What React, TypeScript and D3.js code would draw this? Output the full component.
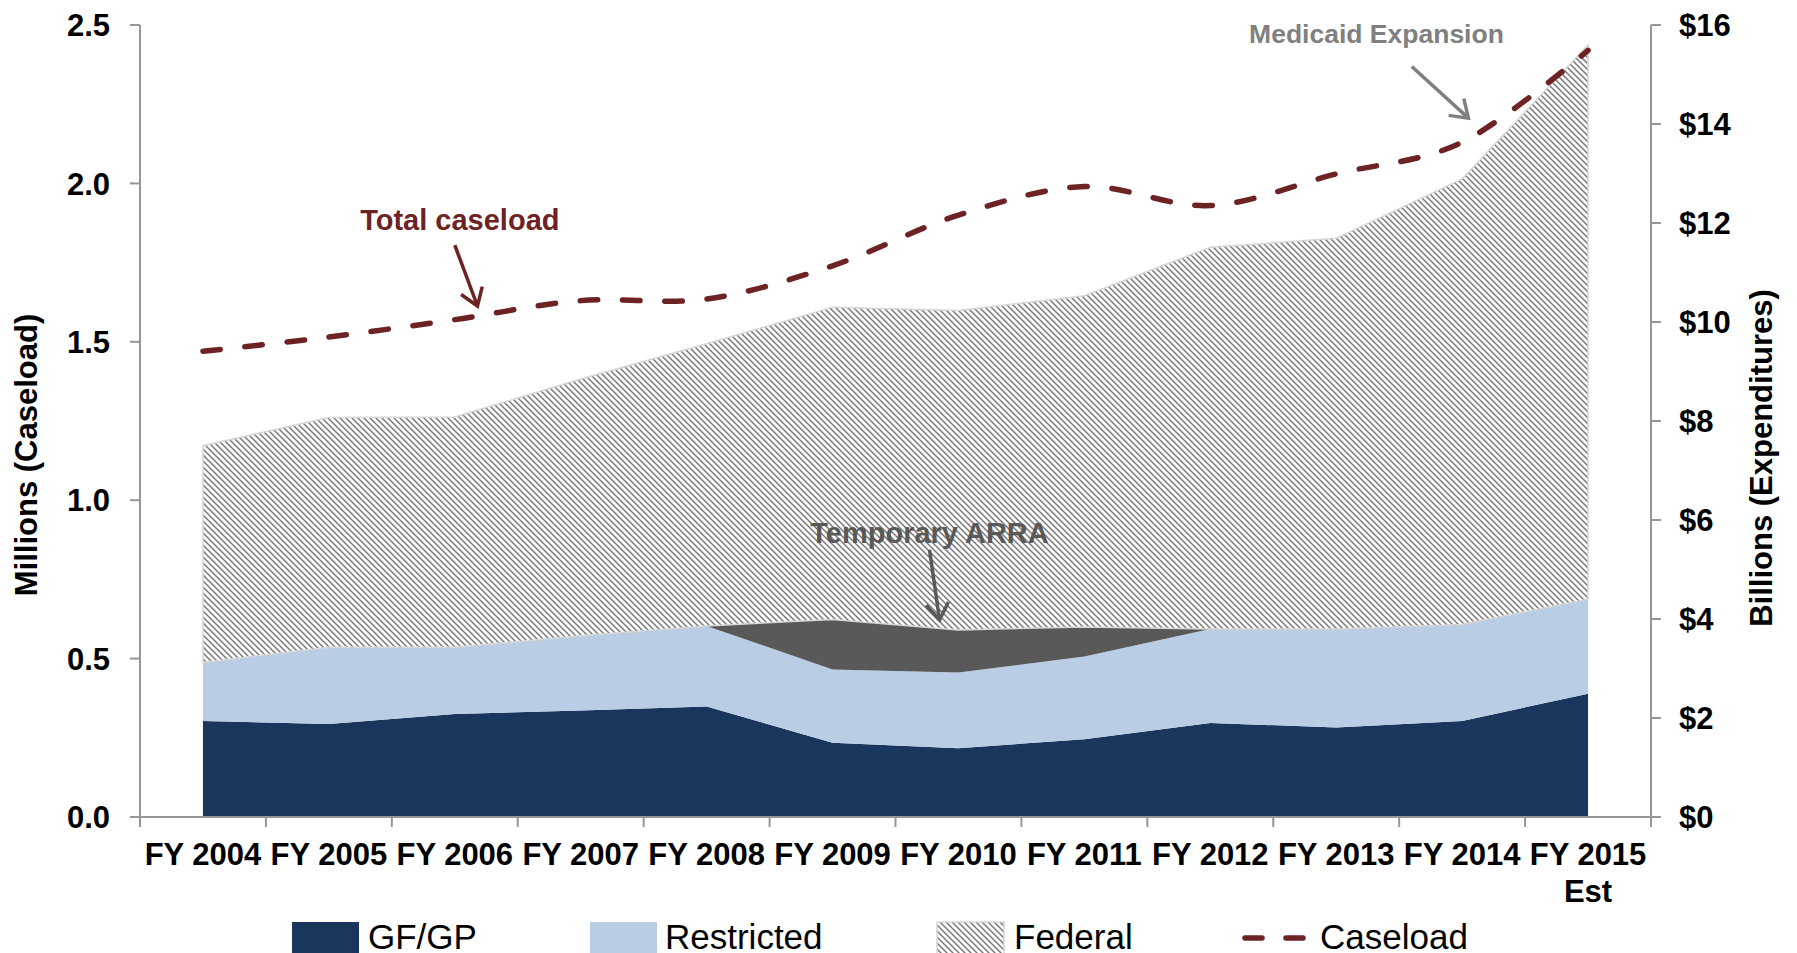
import React from 'react';
import * as d3 from 'd3';

// ---------- data ----------
const categories = ['FY 2004', 'FY 2005', 'FY 2006', 'FY 2007', 'FY 2008', 'FY 2009', 'FY 2010', 'FY 2011', 'FY 2012', 'FY 2013', 'FY 2014', 'FY 2015'];
const categorySubLabels = ['', '', '', '', '', '', '', '', '', '', '', 'Est'];
// Expenditures, billions of dollars (right axis)
const gfgp = [1.94, 1.88, 2.08, 2.15, 2.23, 1.50, 1.39, 1.57, 1.90, 1.81, 1.94, 2.49];
const restricted = [1.18, 1.55, 1.35, 1.51, 1.63, 1.48, 1.53, 1.67, 1.90, 1.99, 1.95, 1.91];
const arra = [0, 0, 0, 0, 0, 1.01, 0.86, 0.60, 0, 0, 0, 0];
const federal = [4.38, 4.64, 4.65, 5.19, 5.70, 6.31, 6.45, 6.69, 7.71, 7.89, 9.00, 11.20];
// Caseload, millions (left axis)
const caseload = [1.47, 1.515, 1.57, 1.63, 1.635, 1.74, 1.90, 1.99, 1.93, 2.03, 2.13, 2.42];

const leftTicks = [0, 0.5, 1.0, 1.5, 2.0, 2.5];
const rightTicks = [0, 2, 4, 6, 8, 10, 12, 14, 16];
const seriesNames = ['GF/GP', 'Restricted', 'Federal', 'Caseload'];

// annotations in data space: [category index, value]
const annotations = [
  { text: 'Total caseload', color: '#6d2323', axis: 'L', size: 29, label: [2.04, 1.853], from: [2.0, 1.805], to: [2.18, 1.613] },
  { text: 'Temporary ARRA', color: '#595959', axis: 'R', size: 29, label: [5.77, 5.535], from: [5.77, 5.40], to: [5.85, 3.98] },
  { text: 'Medicaid Expansion', color: '#808080', axis: 'L', size: 26.5, label: [9.32, 2.443], from: [9.6, 2.369], to: [10.05, 2.206] },
];

// ---------- layout ----------
const W = 1797;
const H = 953;
const X0 = 140;
const X1 = 1651;
const Y0 = 817;
const Y1 = 25;
const FONT = '"Liberation Sans", Arial, Helvetica, sans-serif';
const AXIS = '#969696';
const C_GF = '#1b365c';
const C_RES = '#b9cde5';
const C_ARRA = '#595959';
const C_LINE = '#6d2323';

export default function App() {
  const x = d3.scaleBand<string>().domain(categories).range([X0, X1]).paddingInner(0).paddingOuter(0);
  const bw = x.bandwidth();
  const cx = (i: number) => X0 + bw * (i + 0.5);
  const yL = d3.scaleLinear().domain([0, 2.5]).range([Y0, Y1]);
  const yR = d3.scaleLinear().domain([0, 16]).range([Y0, Y1]);

  const table = categories.map((c, i) => ({ cat: c, gfgp: gfgp[i], restricted: restricted[i], arra: arra[i], federal: federal[i] }));
  const keys = ['gfgp', 'restricted', 'arra', 'federal'];
  const stacked = d3.stack<any>().keys(keys)(table);
  const area = d3
    .area<any>()
    .x((d: any) => (x(d.data.cat) as number) + bw / 2)
    .y0((d: any) => yR(d[0]))
    .y1((d: any) => yR(d[1]));
  const fills: Record<string, string> = { gfgp: C_GF, restricted: C_RES, arra: C_ARRA, federal: 'url(#hatch)' };

  const line = d3
    .line<number>()
    .x((_d, i) => cx(i))
    .y((d) => yL(d))
    .curve(d3.curveCardinal.tension(0));

  const xTickPositions = d3.range(categories.length + 1).map((k) => X0 + k * bw);

  const arrowHead = (x1: number, y1: number, x2: number, y2: number, len = 20, ang = 0.6) => {
    const a = Math.atan2(y2 - y1, x2 - x1);
    const p1 = [x2 - len * Math.cos(a - ang), y2 - len * Math.sin(a - ang)];
    const p2 = [x2 - len * Math.cos(a + ang), y2 - len * Math.sin(a + ang)];
    return `M${p1[0]},${p1[1]} L${x2},${y2} L${p2[0]},${p2[1]}`;
  };

  const legendY = 922;
  const legendItems = [
    { name: seriesNames[0], bx: 292, tx: 368, kind: 'box', fill: C_GF },
    { name: seriesNames[1], bx: 590, tx: 665, kind: 'box', fill: C_RES },
    { name: seriesNames[2], bx: 937, tx: 1014, kind: 'box', fill: 'url(#hatch)' },
    { name: seriesNames[3], bx: 1242, tx: 1320, kind: 'line', fill: C_LINE },
  ];

  return (
    <svg
      width={W}
      height={H}
      viewBox={`0 0 ${W} ${H}`}
      style={{ position: 'absolute', left: 0, top: 0, background: '#fff' }}
      fontFamily={FONT}
    >
      <defs>
        <pattern id="hatch" patternUnits="userSpaceOnUse" width="6" height="6">
          <rect width="6" height="6" fill="#ffffff" />
          <path d="M-1,-1 L7,7 M-1,5 L1,7 M5,-1 L7,1" stroke="#777777" strokeWidth="1.45" />
        </pattern>
      </defs>
      <rect x={0} y={0} width={W} height={H} fill="#fff" />

      {/* stacked areas */}
      {stacked.map((s: any) => (
        <path
          key={s.key}
          d={area(s) as string}
          fill={fills[s.key]}
          stroke={s.key === 'federal' ? '#d6d6d6' : 'none'}
          strokeWidth={s.key === 'federal' ? 1.5 : 0}
        />
      ))}

      {/* caseload line */}
      <path
        d={line(caseload) as string}
        fill="none"
        stroke={C_LINE}
        strokeWidth={5.5}
        strokeDasharray="17.5 24.8"
        strokeLinecap="round"
      />

      {/* left axis */}
      <line x1={X0} x2={X0} y1={Y1} y2={Y0 + 10} stroke={AXIS} strokeWidth={2} />
      {leftTicks.map((t) => (
        <g key={'l' + t}>
          <line x1={X0 - 10} x2={X0} y1={yL(t)} y2={yL(t)} stroke={AXIS} strokeWidth={2} />
          <text x={X0 - 30} y={yL(t)} dy="0.36em" textAnchor="end" fontSize={31} fontWeight="bold" fill="#000">
            {d3.format('.1f')(t)}
          </text>
        </g>
      ))}

      {/* right axis */}
      <line x1={X1} x2={X1} y1={Y1} y2={Y0 + 10} stroke={AXIS} strokeWidth={2} />
      {rightTicks.map((t) => (
        <g key={'r' + t}>
          <line x1={X1} x2={X1 + 10} y1={yR(t)} y2={yR(t)} stroke={AXIS} strokeWidth={2} />
          <text x={X1 + 28} y={yR(t)} dy="0.36em" textAnchor="start" fontSize={31} fontWeight="bold" fill="#000">
            {'$' + t}
          </text>
        </g>
      ))}

      {/* x axis */}
      <line x1={X0} x2={X1} y1={Y0} y2={Y0} stroke={AXIS} strokeWidth={2} />
      {xTickPositions.map((p, k) => (
        <line key={'xt' + k} x1={p} x2={p} y1={Y0} y2={Y0 + 10} stroke={AXIS} strokeWidth={2} />
      ))}
      {categories.map((c, i) => (
        <g key={'xl' + c}>
          <text x={cx(i)} y={865} textAnchor="middle" fontSize={31} fontWeight="bold" fill="#000">
            {c}
          </text>
          {categorySubLabels[i] && (
            <text x={cx(i)} y={902} textAnchor="middle" fontSize={31} fontWeight="bold" fill="#000">
              {categorySubLabels[i]}
            </text>
          )}
        </g>
      ))}

      {/* axis titles */}
      <text transform="translate(37,455) rotate(-90)" textAnchor="middle" fontSize={31} fontWeight="bold" fill="#000">
        Millions (Caseload)
      </text>
      <text transform="translate(1772,458) rotate(-90)" textAnchor="middle" fontSize={31} fontWeight="bold" fill="#000">
        Billions (Expenditures)
      </text>

      {/* annotations */}
      {annotations.map((a) => {
        const ys = a.axis === 'L' ? yL : yR;
        const lx = cx(a.label[0]);
        const ly = ys(a.label[1]);
        const fx = cx(a.from[0]);
        const fy = ys(a.from[1]);
        const tx = cx(a.to[0]);
        const ty = ys(a.to[1]);
        return (
          <g key={a.text}>
            <text x={lx} y={ly} textAnchor="middle" fontSize={a.size} fontWeight="bold" fill={a.color}>
              {a.text}
            </text>
            <line x1={fx} y1={fy} x2={tx} y2={ty} stroke={a.color} strokeWidth={3.5} />
            <path d={arrowHead(fx, fy, tx, ty)} fill="none" stroke={a.color} strokeWidth={3.5} strokeLinejoin="miter" />
          </g>
        );
      })}

      {/* legend */}
      {legendItems.map((it) => (
        <g key={it.name}>
          {it.kind === 'box' ? (
            <rect
              x={it.bx}
              y={legendY}
              width={67}
              height={40}
              fill={it.fill}
              stroke={it.fill === 'url(#hatch)' ? '#d6d6d6' : 'none'}
              strokeWidth={1.5}
            />
          ) : (
            <line
              x1={it.bx + 3}
              x2={it.bx + 64}
              y1={legendY + 16}
              y2={legendY + 16}
              stroke={it.fill}
              strokeWidth={5.5}
              strokeDasharray="17 24"
              strokeLinecap="round"
            />
          )}
          <text x={it.tx} y={949} fontSize={35} fill="#000">
            {it.name}
          </text>
        </g>
      ))}
    </svg>
  );
}
